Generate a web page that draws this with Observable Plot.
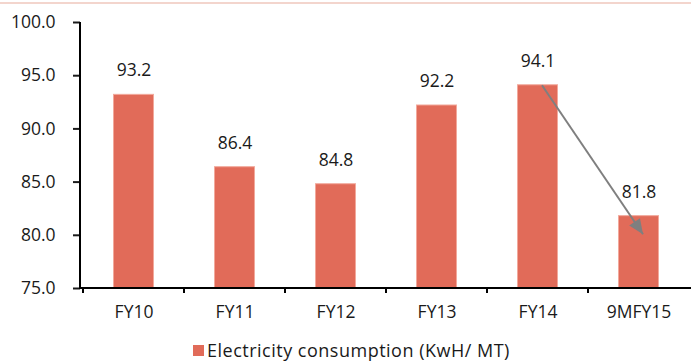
<!DOCTYPE html>
<html>
<head>
<meta charset="utf-8">
<script src="https://cdn.jsdelivr.net/npm/d3@7"></script>
<script src="https://cdn.jsdelivr.net/npm/@observablehq/plot@0.6"></script>
<style>
  body { margin: 0; background: #fff; font-family: "Open Sans", sans-serif; }
  #wrap { position: relative; width: 691px; height: 361px; overflow: hidden; }
  #topline { position: absolute; left: 0; top: 2px; width: 691px; height: 2px; background: #f3d5cd; }
  #chart { position: absolute; left: 0; top: 0; }
  #legend { position: absolute; left: 193px; top: 338px; display: flex; align-items: center;
            font-size: 18px; letter-spacing: 0.5px; color: #1a1a1a; white-space: nowrap; }
  #legend .sw { width: 11px; height: 11px; background: #e16b59; margin-right: 3px; }
</style>
</head>
<body>
<div id="wrap">
  <div id="topline"></div>
  <div id="chart"></div>
  <div id="legend"><span class="sw"></span><span id="legend-label"></span></div>
</div>
<script>
// Electricity consumption per tonne, by fiscal period
const categories = ["FY10", "FY11", "FY12", "FY13", "FY14", "9MFY15"];
const values = [93.2, 86.4, 84.8, 92.2, 94.1, 81.8];
const yTicks = [75, 80, 85, 90, 95, 100];
const seriesName = "Electricity consumption (KwH/ MT)";

// Trend arrow from the FY14 peak down to the 9MFY15 bar
const trendFrom = {period: "FY14", value: 94.1};
const trendTo = {period: "9MFY15", value: 80.1};

const barColor = "#e16b59";
const rows = categories.map((c, i) => ({period: c, value: values[i]}));

document.getElementById("legend-label").textContent = seriesName;

// Axis lines plus tick marks at the band boundaries
function axisFrame(index, scales, channels, dims) {
  const x0 = dims.marginLeft;
  const x1 = dims.width - dims.marginRight;
  const yt = dims.marginTop;
  const yb = dims.height - dims.marginBottom;
  const g = d3.create("svg:g").attr("stroke", "#000").attr("stroke-width", 2).attr("fill", "none");
  g.append("line").attr("x1", x0).attr("x2", x0).attr("y1", yt).attr("y2", yb + 1);
  g.append("line").attr("x1", x0 - 1).attr("x2", x1).attr("y1", yb).attr("y2", yb);
  for (const c of categories) {
    const x = scales.x(c);
    g.append("line").attr("x1", x).attr("x2", x).attr("y1", yb).attr("y2", yb + 5);
  }
  return g.node();
}

// Filled triangular arrowhead
function triangleHead(color) {
  const m = d3.create("svg:marker")
    .attr("viewBox", "-16 -8 17 16")
    .attr("markerUnits", "userSpaceOnUse")
    .attr("markerWidth", 17)
    .attr("markerHeight", 16)
    .attr("refX", 0)
    .attr("refY", 0)
    .attr("orient", "auto");
  m.append("path").attr("d", "M-15,-6.5L0,0L-15,6.5Z").attr("fill", color).attr("stroke", "none");
  return m.node();
}

const chart = Plot.plot({
  width: 691,
  height: 333,
  marginLeft: 80,
  marginRight: 0,
  marginTop: 22,
  marginBottom: 45,
  style: {fontFamily: "Open Sans, sans-serif", fontSize: "17.5px", color: "#1a1a1a", background: "transparent"},
  x: {domain: categories, padding: 0, label: null},
  y: {domain: [75, 100], label: null},
  marks: [
    Plot.barY(rows, {
      x: "period", y1: 75, y2: "value",
      fill: barColor, stroke: "#f2a99c", strokeWidth: 1,
      insetLeft: 30.5, insetRight: 30.5
    }),
    Plot.text(rows, {
      x: "period", y: "value", text: d => d.value.toFixed(1),
      dy: -24, fontSize: 17.5, fill: "#1a1a1a"
    }),
    Plot.axisY({
      ticks: yTicks, tickFormat: d => d.toFixed(1),
      tickSize: 7, tickPadding: 18, strokeWidth: 2, label: null, fontSize: 17.5
    }),
    Plot.axisX({tickSize: 0, tickPadding: 17, label: null, fontSize: 17.5}),
    axisFrame,
    Plot.link([{a: trendFrom, b: trendTo}], {
      x1: d => d.a.period, y1: d => d.a.value,
      x2: d => d.b.period, y2: d => d.b.value,
      stroke: "#7f7f7f", strokeWidth: 2, dx: 4,
      markerEnd: triangleHead
    })
  ]
});

document.getElementById("chart").appendChild(chart);
</script>
</body>
</html>
